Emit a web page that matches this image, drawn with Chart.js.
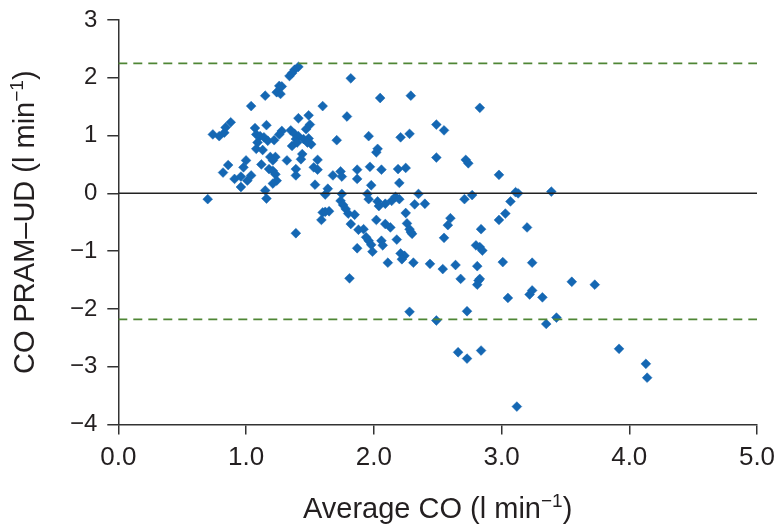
<!DOCTYPE html>
<html>
<head>
<meta charset="utf-8">
<script src="https://cdn.jsdelivr.net/npm/chart.js@4.4.0/dist/chart.umd.min.js"></script>
<style>
  html, body { margin: 0; padding: 0; background: #fff; }
  #wrap { width: 780px; height: 529px; }
</style>
</head>
<body>
<div id="wrap"><canvas id="chart"></canvas></div>
<script>
// average CO (x) and PRAM - UD difference (y)
const avgCO = [
  1.41, 1.38, 1.36, 1.34, 1.82, 1.26, 1.28, 1.24, 1.27, 1.15, 2.05, 1.04, 1.60,
  0.88, 0.84, 0.83, 0.74, 0.79, 1.41, 1.49, 1.50, 1.47, 1.79, 1.16, 1.07, 1.08,
  1.11, 1.14, 1.09, 1.17, 1.22, 1.28, 1.26, 1.35, 1.38, 1.41, 1.39, 1.36, 1.40,
  1.45, 1.49, 1.51, 1.48, 1.71, 1.96, 1.08, 1.13, 1.19, 1.23, 1.21, 1.32, 1.44,
  1.43, 1.56, 2.03, 2.02, 0.86, 1.00, 0.98, 1.12, 1.18, 1.21, 1.23, 1.24, 1.21,
  0.82, 0.91, 0.96, 1.04, 1.01, 0.96, 1.39, 1.39, 1.53, 1.56, 1.68, 1.74, 1.75,
  1.87, 1.87, 1.97, 2.06, 1.54, 1.64, 1.62, 1.75, 1.98, 1.95, 1.15, 1.16, 0.70,
  1.39, 1.60, 1.62, 1.65, 1.59, 1.74, 1.76, 1.78, 1.80, 1.85, 1.82, 1.88, 1.92,
  1.94, 1.96, 1.98, 1.99, 2.06, 2.07, 1.87, 1.81, 1.96, 2.03, 2.04, 2.09, 2.02,
  2.09, 2.11,
  2.29, 2.83, 2.21, 2.28, 2.49, 2.55, 2.49, 2.72, 2.74, 2.98, 2.19, 2.25, 2.20,
  2.13, 2.18, 2.14, 2.17, 2.20, 2.35, 2.32, 2.40, 2.25, 2.26, 2.28, 2.29, 2.30,
  2.21, 2.24, 2.22, 2.31, 2.44, 2.54, 2.64, 2.55, 2.58, 2.60, 2.28, 2.49, 2.73,
  2.68, 2.81, 2.80, 2.83, 2.85, 2.84, 2.71, 2.77, 2.82, 2.81, 2.83, 2.98, 3.03,
  3.07, 3.11, 3.13, 3.01, 3.05, 3.20, 3.24, 3.22, 3.24, 3.32, 3.39, 3.35, 3.43,
  3.55, 3.73, 2.66, 2.73, 2.84, 3.92, 3.12, 4.13, 4.14
];
const diffCO = [
  2.19, 2.14, 2.08, 2.03, 1.99, 1.86, 1.85, 1.75, 1.72, 1.69, 1.65, 1.51, 1.51,
  1.23, 1.14, 1.05, 1.02, 0.99, 1.30, 1.35, 1.19, 1.11, 1.33, 1.18, 1.13, 1.02,
  0.99, 0.97, 0.88, 0.91, 0.92, 1.08, 1.02, 1.09, 1.03, 0.99, 0.94, 0.82, 0.88,
  0.94, 0.95, 0.85, 0.88, 0.92, 0.99, 0.77, 0.75, 0.63, 0.63, 0.57, 0.57, 0.68,
  0.59, 0.58, 0.77, 0.71, 0.49, 0.57, 0.45, 0.50, 0.42, 0.39, 0.33, 0.22, 0.17,
  0.36, 0.25, 0.29, 0.31, 0.22, 0.11, 0.42, 0.31, 0.45, 0.41, 0.31, 0.38, 0.29,
  0.41, 0.25, 0.46, 0.41, 0.15, 0.08, -0.02, -0.01, 0.14, -0.01, 0.05, -0.09, -0.10,
  -0.69, -0.33, -0.32, -0.31, -0.46, -0.13, -0.20, -0.27, -0.35, -0.37, -0.53, -0.63, -0.62,
  -0.76, -0.82, -0.89, -1.01, -0.82, -0.90, -0.95, -1.47, -0.10, -0.14, -0.22, -0.18, -0.46,
  -0.53, -1.20,
  1.69, 1.48, 0.97, 1.03, 1.19, 1.09, 0.62, 0.58, 0.52, 0.32, 0.42, 0.44, 0.18,
  -0.59, -0.80, -0.13, -0.06, -0.10, -0.01, -0.19, -0.18, -0.34, -0.52, -0.62, -0.67, -0.70,
  -1.04, -1.08, -1.14, -1.20, -1.22, -1.31, -1.24, -0.77, -0.55, -0.43, -2.05, -2.20, -2.04,
  -1.48, -1.26, -0.90, -0.93, -0.99, -0.62, -0.10, -0.03, -1.51, -1.58, -1.48, -0.46, -0.35,
  -0.14, 0.02, 0.00, -1.19, -1.81, -0.59, -1.20, -1.75, -1.68, -1.80, 0.03, -2.26, -2.15,
  -1.53, -1.58, -2.75, -2.86, -2.72, -2.69, -3.69, -2.95, -3.19
];

// bias and limits of agreement
const bias = 0;
const upperLimit = 2.25;
const lowerLimit = -2.18;

const xRange = [0, 5];
const yRange = [-4, 3];

const FONT = "'Liberation Sans', Arial, Helvetica, sans-serif";
const INK = '#231f20';
const GREEN = '#4f8635';

const xTitle = [{ t: 'Average CO (l min' }, { t: '\u22121', sup: true }, { t: ')' }];
const yTitle = [{ t: 'CO PRAM\u2013UD (l min' }, { t: '\u22121', sup: true }, { t: ')' }];

const points = avgCO.map((x, i) => ({ x: x, y: diffCO[i] }));
const hline = v => xRange.map(x => ({ x: x, y: v }));

// axis titles with a real superscript
function drawRich(ctx, parts, cx, baseline) {
  const main = '29px ' + FONT, small = '19px ' + FONT;
  let w = 0;
  parts.forEach(p => { ctx.font = p.sup ? small : main; w += ctx.measureText(p.t).width; });
  let x = cx - w / 2;
  parts.forEach(p => {
    ctx.font = p.sup ? small : main;
    ctx.fillText(p.t, x, p.sup ? baseline - 11 : baseline);
    x += ctx.measureText(p.t).width;
  });
}

const titles = {
  id: 'titles',
  afterDraw(chart) {
    const { ctx, chartArea } = chart;
    ctx.save();
    ctx.fillStyle = INK;
    ctx.textBaseline = 'alphabetic';
    ctx.textAlign = 'left';
    drawRich(ctx, xTitle, (chartArea.left + chartArea.right) / 2, 518);
    ctx.translate(34, (chartArea.top + chartArea.bottom) / 2);
    ctx.rotate(-Math.PI / 2);
    drawRich(ctx, yTitle, 0, 0);
    ctx.restore();
  }
};

new Chart(document.getElementById('chart'), {
  type: 'scatter',
  data: {
    datasets: [
      {
        label: 'upper',
        type: 'line',
        data: hline(upperLimit),
        borderColor: GREEN,
        borderWidth: 1.6,
        borderDash: [9, 6],
        pointRadius: 0
      },
      {
        label: 'lower',
        type: 'line',
        data: hline(lowerLimit),
        borderColor: GREEN,
        borderWidth: 1.6,
        borderDash: [9, 6],
        pointRadius: 0
      },
      {
        label: 'bias',
        type: 'line',
        data: hline(bias),
        borderColor: '#222',
        borderWidth: 1.5,
        pointRadius: 0
      },
      {
        label: 'CO',
        data: points,
        pointStyle: 'rectRot',
        pointRadius: 4.9,
        pointBackgroundColor: '#1467b3',
        pointBorderColor: '#1467b3',
        pointBorderWidth: 0.5
      }
    ]
  },
  plugins: [titles],
  options: {
    responsive: true,
    maintainAspectRatio: false,
    animation: false,
    layout: { padding: { top: 20, right: 23, bottom: 0, left: 0 } },
    plugins: { legend: { display: false }, tooltip: { enabled: false } },
    scales: {
      x: {
        type: 'linear',
        min: xRange[0],
        max: xRange[1],
        ticks: {
          stepSize: 1,
          color: INK,
          font: { family: FONT, size: 26 },
          padding: 8,
          callback: v => v.toFixed(1)
        },
        grid: { drawOnChartArea: false, drawTicks: true, tickLength: 10, color: '#333', lineWidth: 1.5 },
        border: { display: true, color: '#333', width: 1.5 },
        afterFit: s => { s.height = 104.5; s.paddingLeft = 0; s.paddingRight = 0; }
      },
      y: {
        min: yRange[0],
        max: yRange[1],
        ticks: {
          stepSize: 1,
          color: INK,
          font: { family: FONT, size: 24 },
          padding: 10,
          callback: v => String(v).replace('-', '\u2212')
        },
        grid: { drawOnChartArea: false, drawTicks: true, tickLength: 11, color: '#333', lineWidth: 1.5 },
        border: { display: true, color: '#333', width: 1.5 },
        afterFit: s => { s.width = 118.3; s.paddingTop = 0; s.paddingBottom = 0; }
      }
    }
  }
});
</script>
</body>
</html>
